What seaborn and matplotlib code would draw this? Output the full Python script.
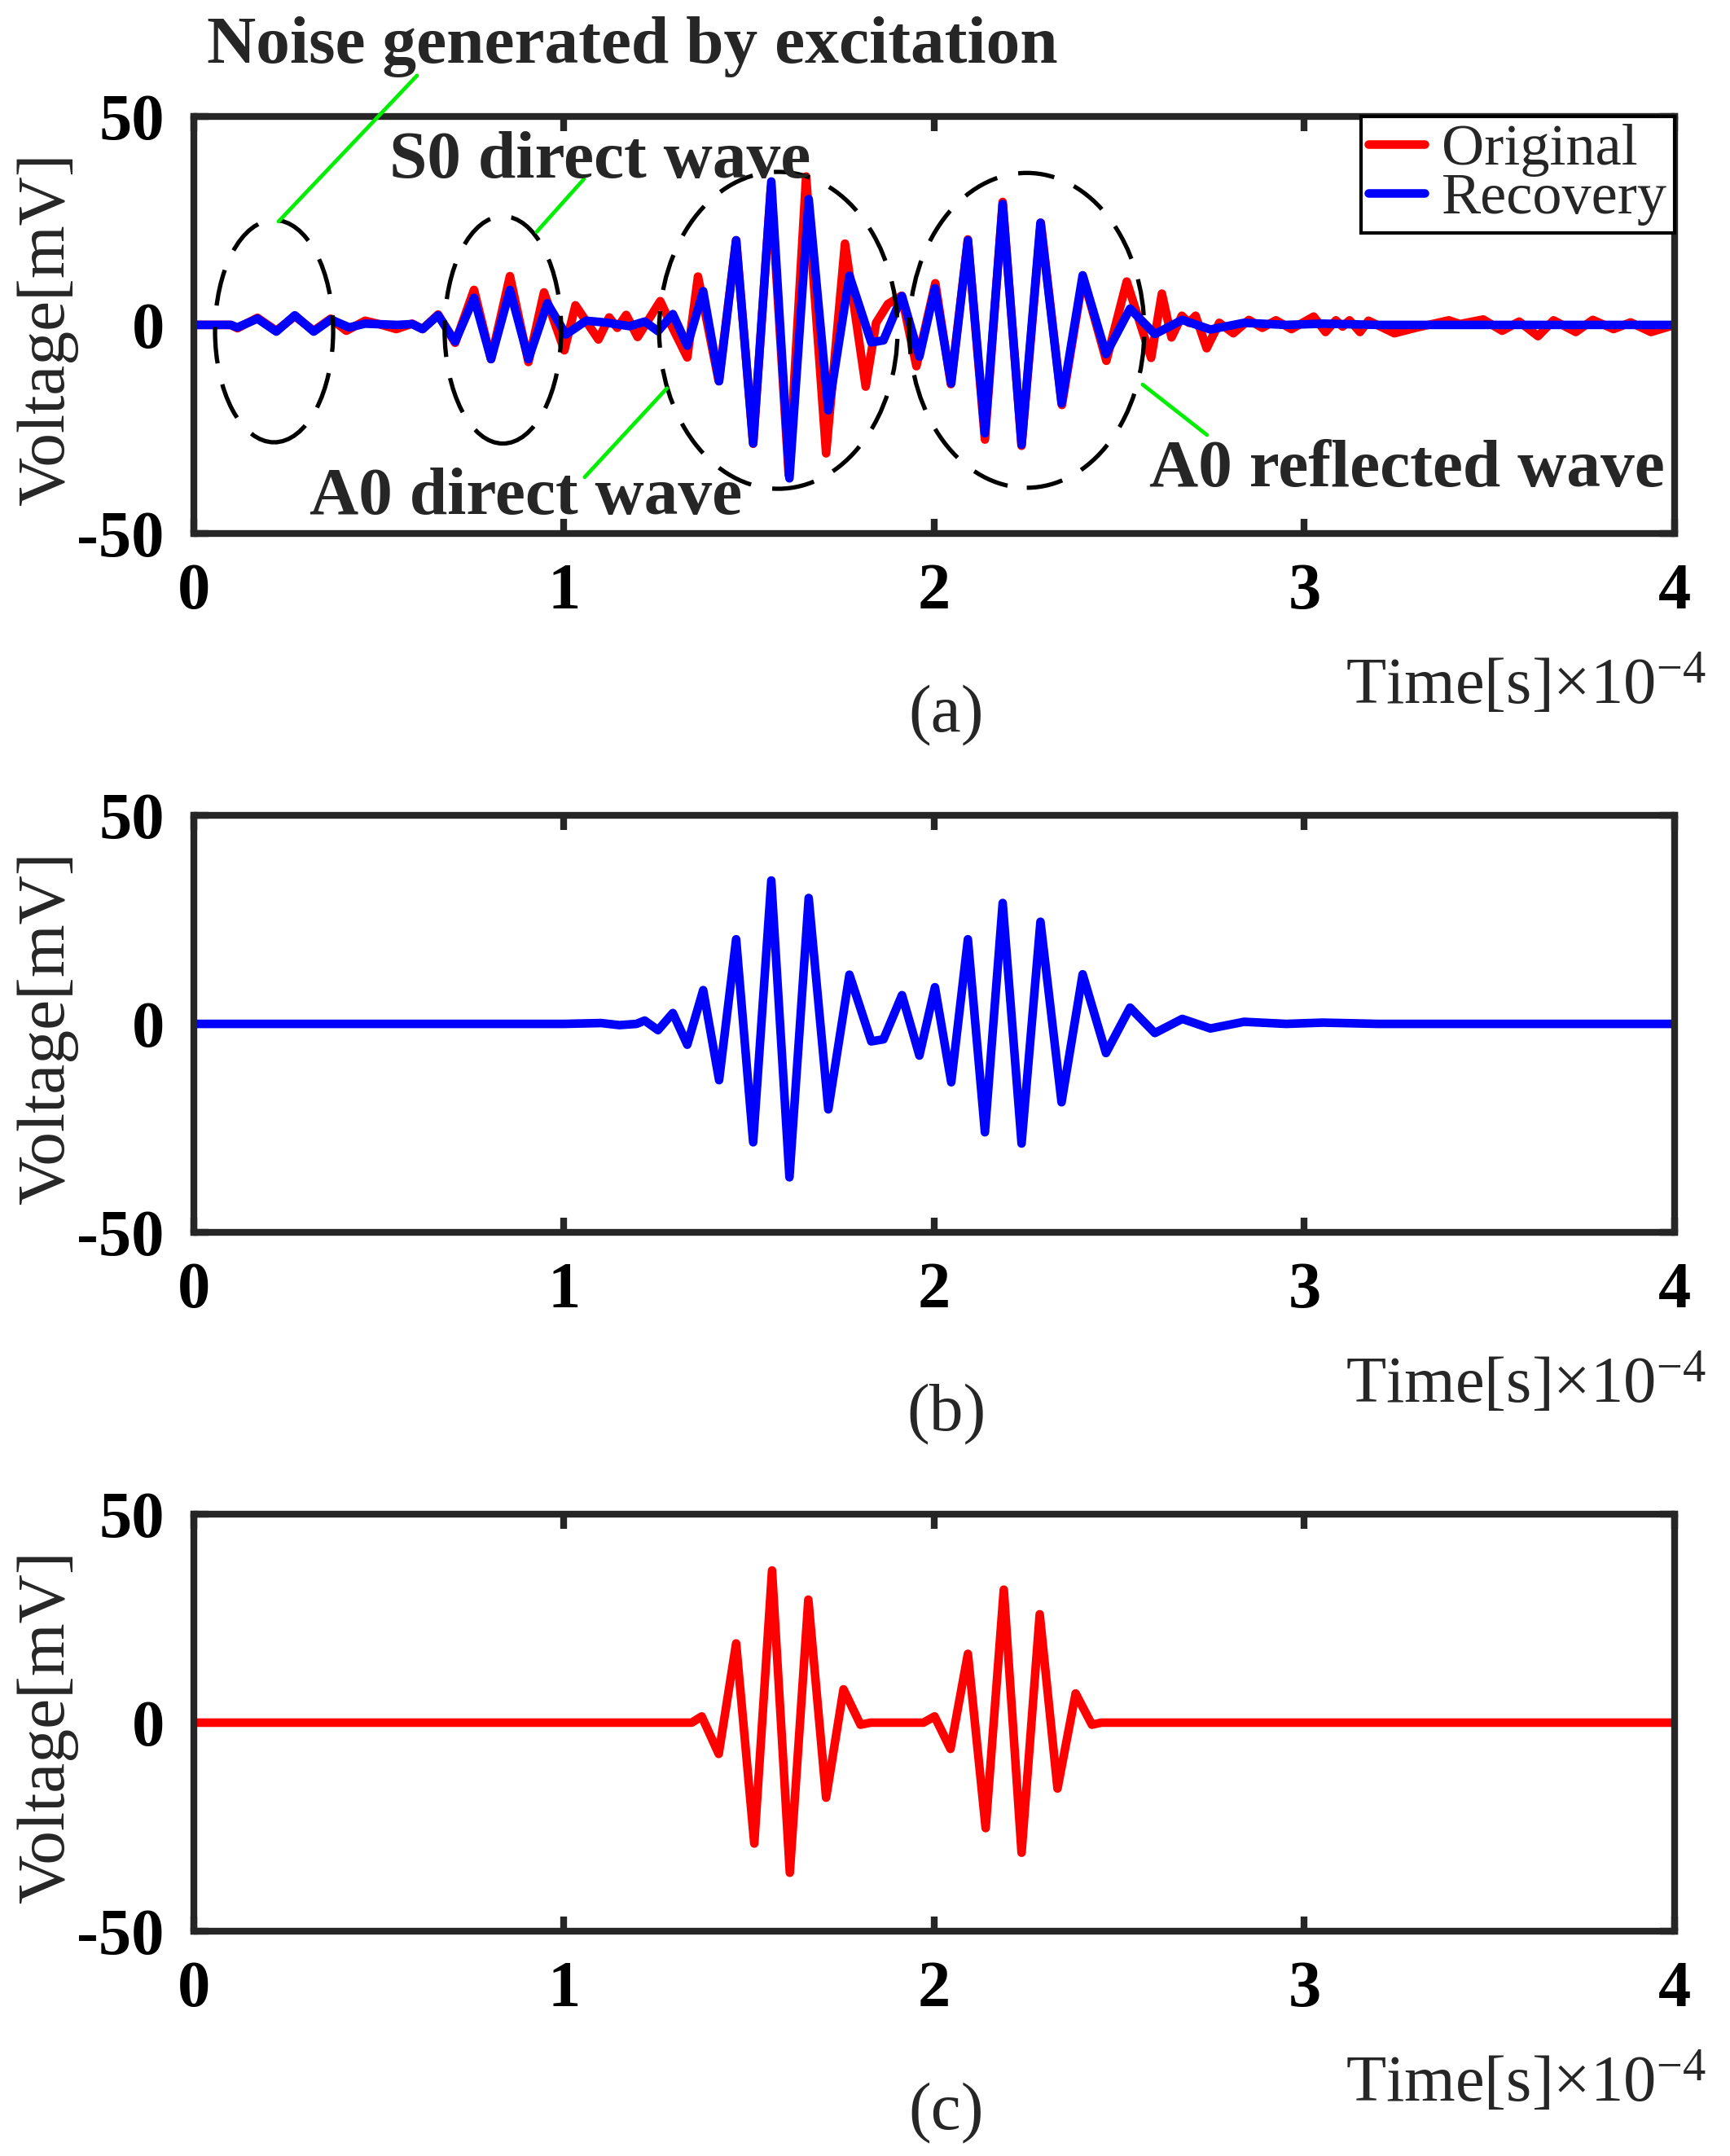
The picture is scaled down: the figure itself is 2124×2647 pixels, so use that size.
import matplotlib
matplotlib.use("Agg")
import matplotlib.pyplot as plt
from matplotlib.patches import Ellipse
from matplotlib.lines import Line2D
import seaborn as sns
import pandas as pd

# time in 1e-4 s, voltage in mV, extrema

# (c) excitation-free original A0 signal
clean_t = [0.0, 1.345, 1.372, 1.418, 1.465, 1.514, 1.562, 1.610, 1.660, 1.708, 1.755, 1.801, 1.828,
           1.971, 2.001, 2.044, 2.091, 2.139, 2.188, 2.236, 2.285, 2.333, 2.382, 2.426, 2.451, 4.0]
clean_v = [0.0, 0.0, 1.5, -7.5, 19.0, -29.0, 36.5, -36.0, 29.5, -18.0, 8.0, -0.5, 0.0,
           0.0, 1.5, -6.3, 16.5, -25.3, 31.9, -31.2, 26.0, -15.8, 7.0, -0.5, 0.0, 0.0]

# recovery, part shared by (a) and (b)
rec_t = [1.218, 1.254, 1.294, 1.333, 1.376, 1.419, 1.465, 1.511, 1.560, 1.609, 1.661, 1.714, 1.771,
         1.830, 1.863, 1.913, 1.960, 2.002, 2.046, 2.091, 2.137, 2.185, 2.236, 2.287, 2.344, 2.401,
         2.464, 2.529, 2.596, 2.670, 2.746, 2.837, 2.95, 3.05, 3.2, 4.0]
rec_v = [0.8, -1.5, 2.6, -5.0, 8.1, -13.5, 20.3, -28.4, 34.4, -36.8, 30.2, -20.5, 11.8,
         -4.2, -3.7, 6.9, -7.6, 8.8, -14.0, 20.3, -26.0, 29.0, -28.7, 24.5, -18.8, 11.9,
         -7.0, 3.9, -2.2, 1.2, -1.1, 0.5, 0.0, 0.3, 0.0, 0.0]

# recovery before the A0 packet: (a) keeps noise + S0, (b) is nearly flat
rec_a_early_t = [0.0, 0.10, 0.118, 0.172, 0.223, 0.273, 0.324, 0.370, 0.420, 0.463, 0.55, 0.59,
                 0.618, 0.660, 0.706, 0.757, 0.803, 0.854, 0.904, 0.955, 1.005, 1.060, 1.11, 1.177]
rec_a_early_v = [0.0, 0.0, -0.6, 1.5, -1.6, 2.3, -1.6, 1.3, -0.6, 0.3, 0.0, 0.2,
                 -1.0, 2.3, -4.0, 6.5, -8.2, 8.4, -8.2, 5.2, -2.3, 1.0, 0.6, -0.3]
rec_b_early_t = [0.0, 1.0, 1.1, 1.15, 1.196]
rec_b_early_v = [0.0, 0.0, 0.2, -0.3, 0.0]

# (a) measured original signal
raw_t = [0.0, 0.10, 0.118, 0.172, 0.223, 0.273, 0.324, 0.370, 0.412, 0.463, 0.50, 0.547, 0.59,
         0.618, 0.660, 0.706, 0.757, 0.803, 0.854, 0.904, 0.946, 1.001, 1.031, 1.093, 1.122,
         1.144, 1.168, 1.199, 1.260, 1.295, 1.333, 1.362, 1.418, 1.465, 1.511, 1.559, 1.607,
         1.654, 1.708, 1.759, 1.815, 1.843, 1.875, 1.912, 1.952, 2.003, 2.045, 2.091, 2.137,
         2.185, 2.236, 2.288, 2.345, 2.402, 2.465, 2.520, 2.586, 2.615, 2.641, 2.669, 2.688,
         2.706, 2.736, 2.77, 2.808, 2.85, 2.886, 2.923, 2.965, 3.025, 3.057, 3.085, 3.103,
         3.122, 3.15, 3.173, 3.243, 3.3, 3.39, 3.42, 3.483, 3.534, 3.58, 3.631, 3.673, 3.733,
         3.779, 3.835, 3.881, 3.936, 4.0]
raw_v = [0.0, 0.0, -0.8, 1.7, -1.4, 2.1, -1.4, 1.5, -1.4, 1.0, 0.2, -1.0, 0.3,
         -1.0, 2.5, -4.3, 8.4, -8.2, 11.7, -8.9, 7.8, -6.1, 4.7, -3.5, 1.8,
         -0.7, 2.4, -2.9, 5.7, -1.0, -7.8, 11.6, -13.5, 20.3, -28.5, 33.0, -36.0,
         35.6, -30.8, 19.5, -14.8, 0.5, 5.0, 7.0, -9.9, 10.0, -14.2, 20.5, -27.5,
         29.5, -29.0, 24.5, -19.2, 11.5, -8.6, 10.4, -7.9, 7.5, -3.0, 2.2, 0.5,
         2.2, -5.6, 0.5, -2.0, 1.2, -0.7, 1.1, -1.0, 2.0, -1.7, 1.1, -0.4,
         1.1, -1.7, 1.0, -2.0, -0.7, 1.1, 0.2, 1.3, -1.4, 0.8, -2.7, 1.1, -1.7,
         1.2, -1.0, 0.6, -1.7, 0.0]

panel_tags = ["(a)", "(b)", "(c)"]

sns.set_style("ticks")
plt.rcParams["font.family"] = ["Liberation Serif", "DejaVu Sans"]
plt.rcParams["mathtext.fontset"] = "custom"
plt.rcParams["mathtext.rm"] = "Liberation Serif"
plt.rcParams["mathtext.default"] = "regular"
plt.rcParams["axes.unicode_minus"] = False

RED = "#ff0000"
BLUE = "#0000ff"
GREEN = "#00ee00"
AXC = "#262626"
LW = 3.8

fig = plt.figure(figsize=(2124 / 200, 2647 / 200), dpi=200)
fig.patch.set_facecolor("white")
bottoms = [0.7526, 0.4284, 0.1043]
axes = [fig.add_axes([0.112, b, 0.856, 0.1934]) for b in bottoms]

df_raw = pd.DataFrame({"t": raw_t, "v": raw_v})
df_rec_a = pd.DataFrame({"t": rec_a_early_t + rec_t, "v": rec_a_early_v + rec_v})
df_rec_b = pd.DataFrame({"t": rec_b_early_t + rec_t, "v": rec_b_early_v + rec_v})
df_clean = pd.DataFrame({"t": clean_t, "v": clean_v})

line_kw = dict(x="t", y="v", linewidth=LW, legend=False, sort=False,
               solid_joinstyle="round", solid_capstyle="round")
sns.lineplot(data=df_raw, color=RED, ax=axes[0], **line_kw)
sns.lineplot(data=df_rec_a, color=BLUE, ax=axes[0], **line_kw)
sns.lineplot(data=df_rec_b, color=BLUE, ax=axes[1], **line_kw)
sns.lineplot(data=df_clean, color=RED, ax=axes[2], **line_kw)

for ax, tag in zip(axes, panel_tags):
    ax.set_xlim(0, 4)
    ax.set_ylim(-50, 50)
    ax.set_xticks([0, 1, 2, 3, 4])
    ax.set_yticks([-50, 0, 50])
    ax.set_xlabel("")
    ax.set_ylabel("")
    ax.tick_params(direction="in", top=True, right=True, length=6.5, width=3,
                   color=AXC, labelsize=29, labelcolor="black")
    ax.tick_params(axis="x", pad=13)
    ax.tick_params(axis="y", pad=13)
    for lab in ax.get_xticklabels() + ax.get_yticklabels():
        lab.set_fontweight("bold")
    for s in ax.spines.values():
        s.set_linewidth(3)
        s.set_color(AXC)
    ax.text(-0.099, 0.49, "Voltage[mV]", rotation=90, transform=ax.transAxes,
            ha="center", va="center", fontsize=30)
    ax.text(1.021, -0.408, "Time[s]×10$^{-4}$", transform=ax.transAxes,
            ha="right", va="baseline", fontsize=29)
    ax.text(0.508, -0.437, tag, transform=ax.transAxes, ha="center", va="center", fontsize=30)

ax = axes[0]
# dashed ellipses around the wave packets
for cx, cy, w, h in [(0.217, -1.5, 0.319, 53.3), (0.835, -1.2, 0.315, 54.5),
                     (1.579, -1.3, 0.644, 76.0), (2.250, -1.3, 0.635, 75.5)]:
    ax.add_patch(Ellipse((cx, cy), w, h, fill=False, edgecolor="black", lw=1.9,
                         linestyle=(0, (8.5, 5)), zorder=4))

# labels with green leader lines
notes = [("Noise generated by excitation", (1.184, 62.9), (0.603, 59.8), (0.229, 24.8)),
         ("S0 direct wave", (1.098, 35.4), (1.054, 35.0), (0.926, 22.3)),
         ("A0 direct wave", (0.898, -45.3), (1.056, -36.5), (1.278, -15.2)),
         ("A0 reflected wave", (3.276, -38.7), (2.737, -26.4), (2.563, -14.3))]
for txt, tpos, p0, p1 in notes:
    ax.annotate("", xy=p1, xytext=p0, annotation_clip=False,
                arrowprops=dict(arrowstyle="-", color=GREEN, lw=1.7, shrinkA=0, shrinkB=0),
                zorder=5)
    ax.text(tpos[0], tpos[1], txt, ha="center", va="baseline", fontsize=30,
            fontweight="bold", zorder=6, clip_on=False)

handles = [Line2D([], [], color=RED, lw=LW), Line2D([], [], color=BLUE, lw=LW)]
leg = ax.legend(handles, ["Original", "Recovery"], loc="upper right", bbox_to_anchor=(1, 1),
                borderaxespad=0, fontsize=26, frameon=True, fancybox=False, edgecolor="black",
                handlelength=0.95, handletextpad=0.3, labelspacing=-0.08, borderpad=0.12)
leg.get_frame().set_linewidth(1.5)
leg.get_frame().set_alpha(1)
leg.set_zorder(10)

fig.savefig("out.png", dpi=200, facecolor="white")
